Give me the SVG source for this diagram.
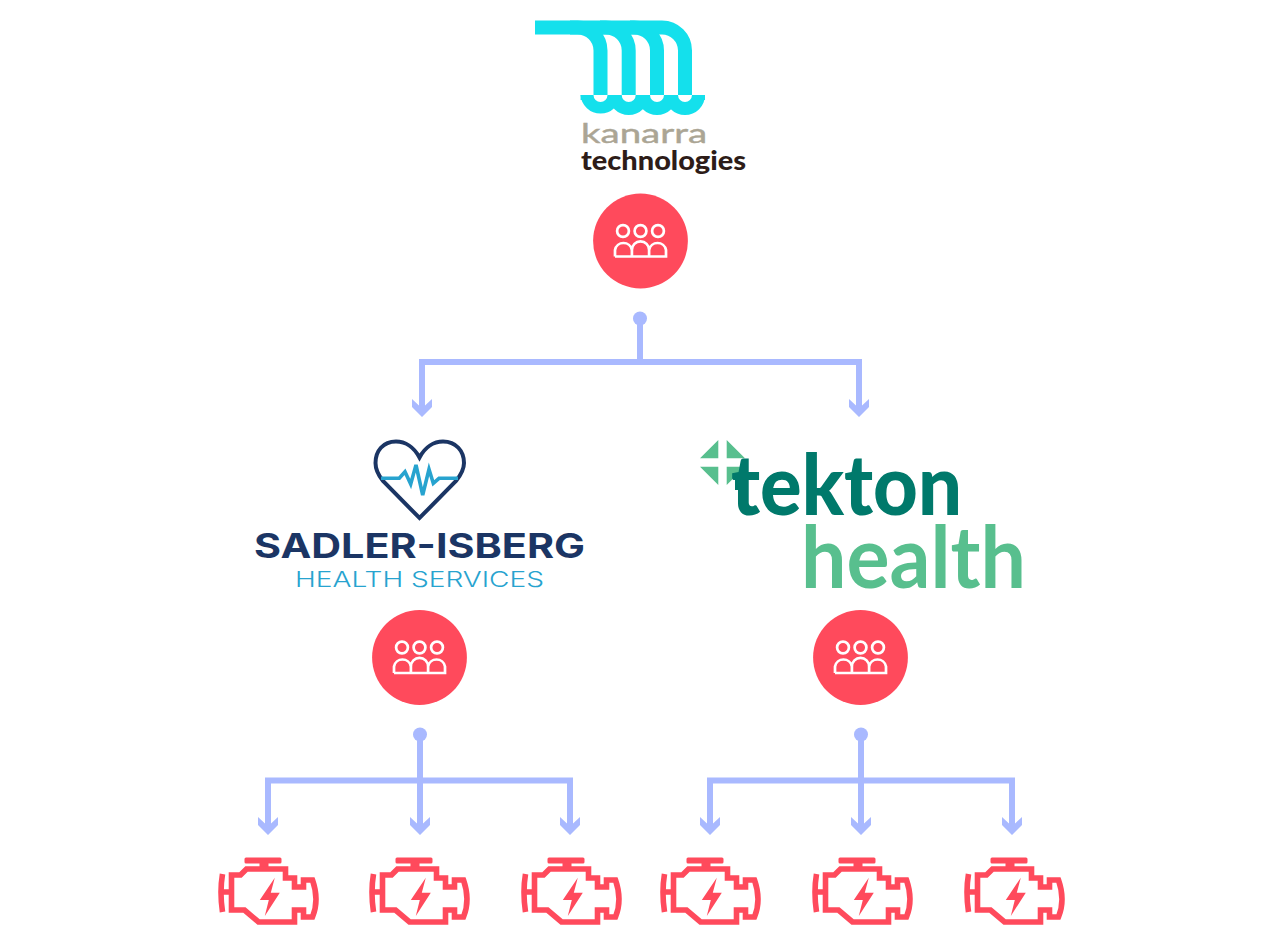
<svg xmlns="http://www.w3.org/2000/svg" width="1280" height="945" viewBox="0 0 1280 945">
<style>
.conn{fill:none;stroke:#a9b9ff;stroke-width:6;marker-end:url(#chev)}
.stem{fill:none;stroke:#a9b9ff;stroke-width:6}
.dot{fill:#a9b9ff}
.badge{fill:#ff4a5c}
.people{fill:none;stroke:#fff;stroke-width:2.7}
.eng{fill:none;stroke:#ff4a5c;stroke-width:5.6}
.leg{fill:none;stroke:#14e0ec;stroke-width:14}
</style>
<defs>
<marker id="chev" markerUnits="userSpaceOnUse" markerWidth="18" markerHeight="20" viewBox="0 0 18 20" refX="7" refY="10" orient="auto"><path d="M0 0L7 7.5V12.5L0 20H8L18 10L8 0Z" fill="#a9b9ff"/></marker>
<g id="badge"><circle class="badge" cx="0" cy="0" r="47.4"/><g class="people"><circle cx="-17.5" cy="-10" r="5.9"/><circle cx="0" cy="-10" r="5.9"/><circle cx="17.5" cy="-10" r="5.9"/><path d="M-25.5 15.5V9A8.6 8.6 0 0 1-8.6 9V15.5M-8.6 9A8.6 8.6 0 0 1 8.6 9V15.5M8.6 9A8.6 8.6 0 0 1 25.5 9V15.5H-25.5"/></g></g>
<g id="engine"><rect x="33" y="7.4" width="37" height="6" rx="1.5" fill="#ff4a5c"/><rect x="48" y="12" width="9" height="7" fill="#ff4a5c"/><path class="eng" d="M20 25H29L35 19H74V28H83V37H92V30H101Q108 50 101 67H92V60H83V72H47L33 60H20Z"/><path class="eng" d="M11 24Q8 42 11 62M11 42H20"/><path d="M63.3 27.7L48.3 50H57.3L53.3 66L68.3 42.7H59.3Z" fill="#ff4a5c"/></g>
</defs>
<g id="connectors">
<circle class="dot" cx="640" cy="318.5" r="7"/>
<path class="stem" d="M640 319V362"/>
<path class="conn" d="M640 362H422V406"/>
<path class="conn" d="M640 362H859V406"/>
<circle class="dot" cx="420" cy="734.5" r="7"/>
<path class="conn" d="M420 735V824"/>
<path class="conn" d="M420 780.5H268V824"/>
<path class="conn" d="M420 780.5H570V824"/>
<circle class="dot" cx="861" cy="734.5" r="7"/>
<path class="conn" d="M861 735V824"/>
<path class="conn" d="M861 780.5H710V824"/>
<path class="conn" d="M861 780.5H1012V824"/>
</g>
<g id="kanarra">
<path class="leg" d="M535 27.5H577A23 23 0 0 1 600.5 50.5V95"/>
<path class="leg" d="M570 27.5H605.4A23 23 0 0 1 628.7 50.5V95"/>
<path class="leg" d="M600 27.5H633.7A23 23 0 0 1 657 50.5V95"/>
<path class="leg" d="M630 27.5H662A23 23 0 0 1 685 50.5V95"/>
<path d="M580.6 95A20 20 0 0 0 620.5 95ZM608.7 95A20 20 0 0 0 648.7 95ZM637 95A20 20 0 0 0 677 95ZM665 95A20 20 0 0 0 705 95Z" fill="#14e0ec"/>
<path d="M580.6 95H705V100H580.6Z" fill="#14e0ec"/>
<path d="M593.5 95A7 7 0 0 0 607.5 95ZM621.7 95A7 7 0 0 0 635.7 95ZM650 95A7 7 0 0 0 664 95ZM678 95A7 7 0 0 0 692 95Z" fill="#fff"/>
<text x="581" y="143" font-family="Lato,sans-serif" font-weight="400" font-size="26" fill="#aba594" stroke="#aba594" stroke-width=".4" textLength="126" lengthAdjust="spacingAndGlyphs">kanarra</text>
<text x="581" y="170" font-family="Lato,sans-serif" font-weight="900" font-size="26" fill="#2d1c18" textLength="165" lengthAdjust="spacingAndGlyphs">technologies</text>
</g>
<use id="badge-kanarra" href="#badge" x="640.5" y="241"/>
<g id="sadler">
<path d="M419.5 457.5C414 447 405 441.5 396 441.5C383 441.5 375.5 451 375.5 463C375.5 470 379 476 383 481L419.5 518L456 481C460 476 464 470 464 463C464 451 456 441.5 443 441.5C434 441.5 425 447 419.5 457.5Z" fill="none" stroke="#1b3564" stroke-width="4"/>
<path d="M381 478.3H399.3L405 471.7L410.7 484L416 465L422.7 495L429 469.3L433.3 483.3L439 478.3H458" fill="none" stroke="#27a3cf" stroke-width="3.6"/>
<text x="254" y="558" font-family="Inter,sans-serif" font-weight="700" font-size="33.5" fill="#1b3564" textLength="331" lengthAdjust="spacingAndGlyphs">SADLER-ISBERG</text>
<text x="295" y="587.3" font-family="Inter,sans-serif" font-weight="300" font-size="21.5" fill="#27a3cf" textLength="249" lengthAdjust="spacingAndGlyphs">HEALTH SERVICES</text>
</g>
<use id="badge-sadler" href="#badge" x="419.5" y="657.5"/>
<g id="tekton">
<path d="M718.3 440V458.3H700ZM726.7 440V458.3H745ZM700 466.7H718.3V485ZM726.7 466.7H745L726.7 485Z" fill="#58bf8e"/>
<path d="M745 467V490H735V477Z" fill="#00796b"/>
<text x="731" y="515" font-family="Lato,sans-serif" font-weight="900" font-size="84" fill="#00796b" textLength="231" lengthAdjust="spacingAndGlyphs">tekton</text>
<text x="801" y="588" font-family="Lato,sans-serif" font-weight="700" font-size="86" fill="#58bf8e" textLength="225" lengthAdjust="spacingAndGlyphs">health</text>
</g>
<use id="badge-tekton" href="#badge" x="860.5" y="657.5"/>
<use id="engine-1" href="#engine" transform="translate(211.5 850)"/>
<use id="engine-2" href="#engine" transform="translate(362.5 850)"/>
<use id="engine-3" href="#engine" transform="translate(514.5 850)"/>
<use id="engine-4" href="#engine" transform="translate(653.5 850)"/>
<use id="engine-5" href="#engine" transform="translate(805.5 850)"/>
<use id="engine-6" href="#engine" transform="translate(957.5 850)"/>
</svg>
